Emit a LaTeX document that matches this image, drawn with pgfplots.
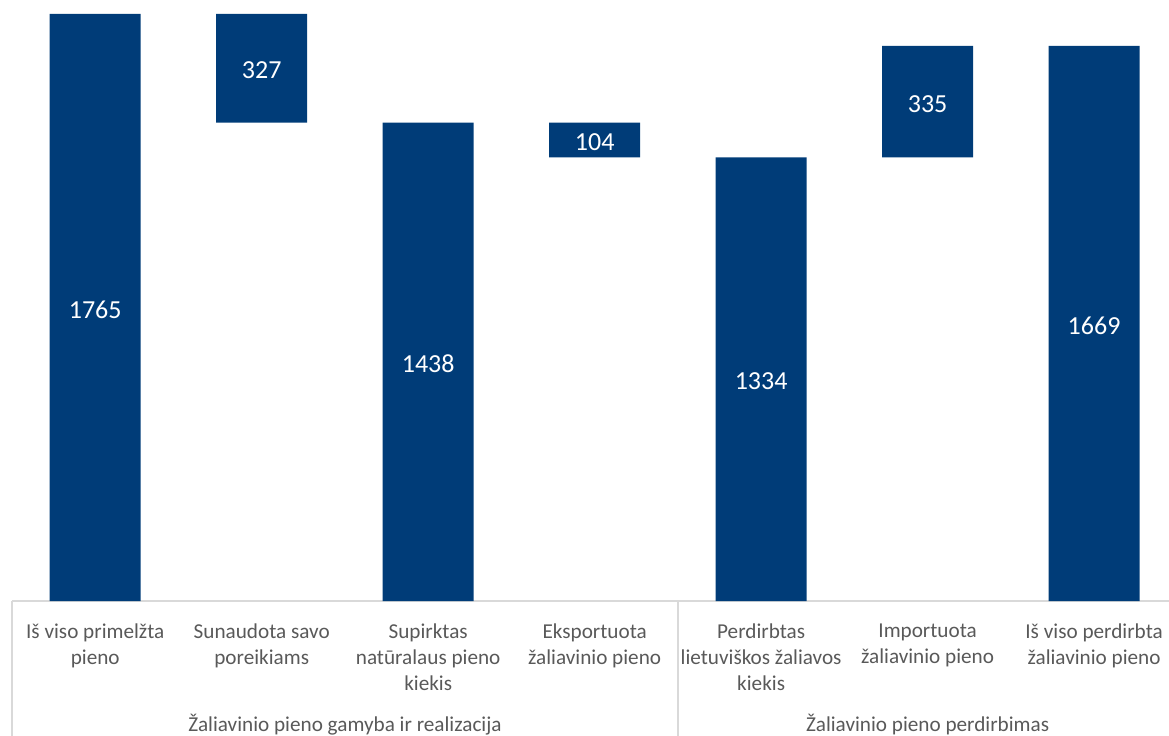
\documentclass[border=0pt]{standalone}
\usepackage{pgfplots}
\pgfplotsset{compat=1.18}
\usepackage{fontspec}
\setmainfont{Carlito}
\definecolor{barblue}{HTML}{003C78}
\definecolor{txt}{HTML}{595959}
\definecolor{gridc}{HTML}{D9D9D9}
\begin{document}
\begin{tikzpicture}
\useasboundingbox (0,0) rectangle (584.5pt,367.5pt);
\begin{axis}[
 at={(6pt,67pt)}, anchor=south west,
 scale only axis, width=578.5pt, height=300.5pt,
 xmin=-0.5, xmax=6.45, ymin=0, ymax=1807,
 ybar stacked, bar width=45.5pt,
 axis x line*=bottom, axis y line=none,
 x axis line style={draw=gridc, line width=0.8pt, -},
 xtick={0,...,6},
 xticklabels={{Iš viso primelžta\\pieno},{Sunaudota savo\\poreikiams},{Supirktas\\natūralaus pieno\\kiekis},{Eksportuota\\žaliavinio pieno},{Perdirbtas\\lietuviškos žaliavos\\kiekis},{Importuota\\žaliavinio pieno},{Iš viso perdirbta\\žaliavinio pieno}},
 major tick length=0,
 xticklabel style={align=center, font=\fontsize{10.6}{13}\selectfont, text=txt, anchor=north, yshift=-8pt},
 clip=false,
]
\addplot[draw=none, fill=none] coordinates {(0,0) (1,1438) (2,0) (3,1334) (4,0) (5,1334) (6,0)};
\addplot[fill=barblue, draw=none] coordinates {(0,1765) (1,327) (2,1438) (3,104) (4,1334) (5,335) (6,1669)};
\draw[gridc, line width=0.8pt] (axis cs:-0.5,0) -- ([yshift=-70pt]axis cs:-0.5,0);
\draw[gridc, line width=0.8pt] (axis cs:3.5,0) -- ([yshift=-70pt]axis cs:3.5,0);
\node[font=\fontsize{10.6}{13}\selectfont, text=txt] at (axis cs:1.5,0) [yshift=-62pt] {Žaliavinio pieno gamyba ir realizacija};
\node[font=\fontsize{10.6}{13}\selectfont, text=txt] at (axis cs:5,0) [yshift=-62pt] {Žaliavinio pieno perdirbimas};
\end{axis}
\begin{axis}[
 at={(6pt,67pt)}, anchor=south west,
 scale only axis, width=578.5pt, height=300.5pt,
 xmin=-0.5, xmax=6.45, ymin=0, ymax=1807,
 hide axis, clip=false,
 nodes near coords, point meta=explicit symbolic,
 every node near coord/.append style={anchor=center, text=white, font=\fontsize{13}{15}\selectfont},
]
\addplot[only marks, mark=none] table[meta=label] {
x y label
0 875 1765
1 1597 327
2 713 1438
3 1381 104
4 660 1334
5 1495 335
6 826 1669
};
\end{axis}
\end{tikzpicture}
\end{document}
